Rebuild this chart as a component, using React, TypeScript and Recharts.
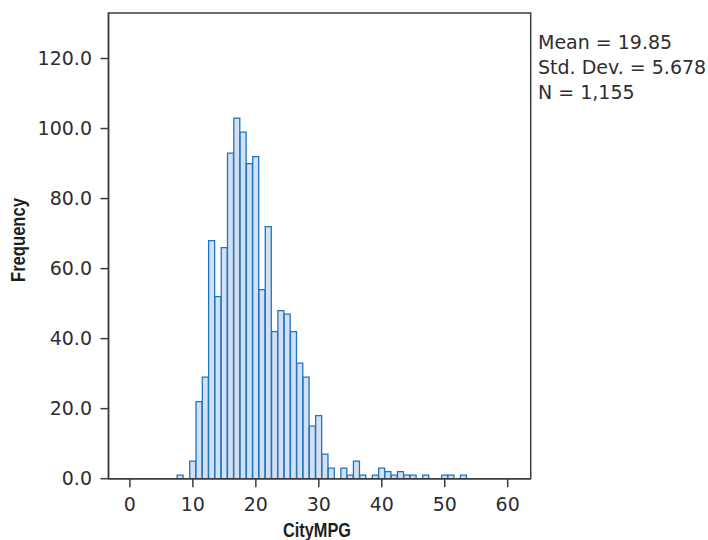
import { ComposedChart, Bar, XAxis, YAxis, ReferenceArea } from "recharts";

// CityMPG histogram, one bin per integer mpg (empty bins left out)
const mpgValues = [8, 10, 11, 12, 13, 14, 15, 16, 17, 18, 19, 20, 21, 22, 23, 24, 25, 26, 27, 28, 29, 30, 31, 32, 34, 35, 36, 37, 39, 40, 41, 42, 43, 44, 45, 47, 50, 51, 53];
const counts = [1, 5, 22, 29, 68, 52, 66, 93, 103, 99, 90, 92, 54, 72, 42, 48, 47, 42, 33, 29, 15, 18, 7, 3, 3, 1, 5, 1, 1, 3, 2, 1, 2, 1, 1, 1, 1, 1, 1];

const xTicks = [0, 10, 20, 30, 40, 50, 60];
const yTicks = [0, 20, 40, 60, 80, 100, 120];
const statLines = ["Mean = 19.85", "Std. Dev. = 5.678", "N = 1,155"];

const data = mpgValues.map((mpg, i) => ({ mpg, count: counts[i] }));

const xDomain: [number, number] = [-3.4, 63.65];
const yDomain: [number, number] = [0, 133];

const axisColor = "#3c3c3c";
const numFont = "'DejaVu Sans', 'Liberation Sans', sans-serif";
const titleFont = "'Liberation Sans', Arial, sans-serif";
const tickStyle = { fontSize: 19, fill: "#2e2e2e", fontFamily: numFont };

export default function App() {
  return (
    <div style={{ position: "absolute", left: 0, top: 0, background: "#fff" }}>
      <ComposedChart
        width={708}
        height={540}
        data={data}
        margin={{ top: 13, right: 177.3, bottom: 0, left: 0 }}
        barCategoryGap={0}
        barGap={0}
      >
        <XAxis
          dataKey="mpg"
          type="number"
          domain={xDomain}
          ticks={xTicks}
          allowDataOverflow
          height={61.3}
          tickSize={8.5}
          tickMargin={10}
          tick={tickStyle}
          axisLine={{ stroke: axisColor, strokeWidth: 1.5 }}
          tickLine={{ stroke: axisColor, strokeWidth: 1.5 }}
        />
        <YAxis
          type="number"
          domain={yDomain}
          ticks={yTicks}
          allowDataOverflow
          width={108.5}
          tickSize={8}
          tickMargin={8.5}
          tick={tickStyle}
          tickFormatter={(v: number) => v.toFixed(1)}
          axisLine={{ stroke: axisColor, strokeWidth: 1.5 }}
          tickLine={{ stroke: axisColor, strokeWidth: 1.5 }}
        />
        {/* plot frame */}
        <ReferenceArea
          x1={xDomain[0]}
          x2={xDomain[1]}
          y1={yDomain[0]}
          y2={yDomain[1]}
          fill="none"
          fillOpacity={0}
          stroke={axisColor}
          strokeWidth={1.5}
          strokeOpacity={1}
        />
        <Bar
          dataKey="count"
          fill="#d4e0f1"
          stroke="#1b76c0"
          strokeWidth={1.3}
          isAnimationActive={false}
        />

        {/* axis titles */}
        <text
          x={18}
          y={240}
          transform="rotate(-90, 18, 240)"
          textAnchor="middle"
          dominantBaseline="central"
          fontFamily={titleFont}
          fontWeight={700}
          fontSize={20}
          textLength={84}
          lengthAdjust="spacingAndGlyphs"
          fill="#1e1e1e"
        >
          Frequency
        </text>
        <text
          x={317}
          y={537}
          textAnchor="middle"
          fontFamily={titleFont}
          fontWeight={700}
          fontSize={20}
          textLength={68}
          lengthAdjust="spacingAndGlyphs"
          fill="#1e1e1e"
        >
          CityMPG
        </text>

        {/* summary stats */}
        {statLines.map((line, i) => (
          <text
            key={line}
            x={538}
            y={48.5 + i * 25}
            fontFamily={numFont}
            fontSize={19}
            fill="#2e2e2e"
          >
            {line}
          </text>
        ))}
      </ComposedChart>
    </div>
  );
}
